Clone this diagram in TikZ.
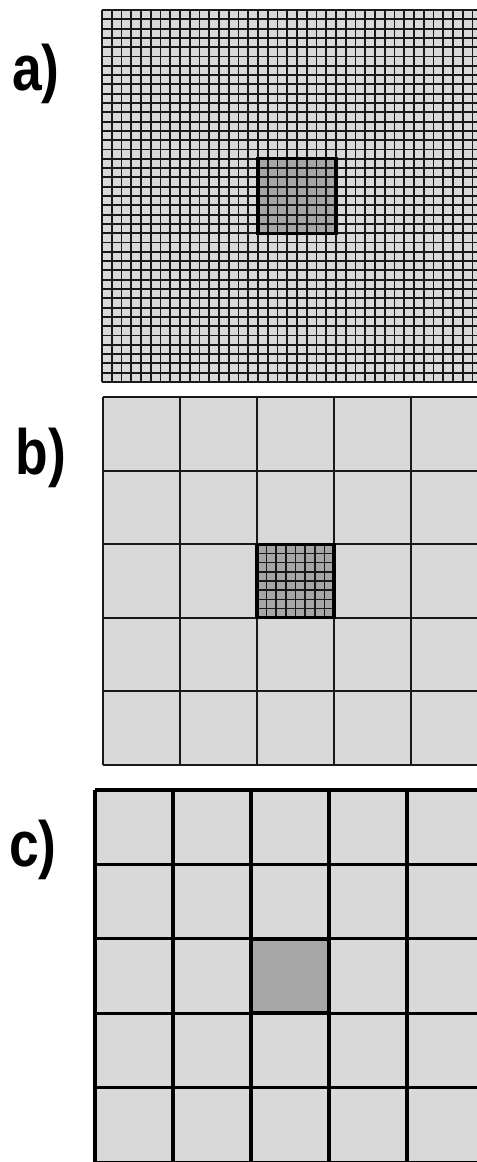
\documentclass[tikz,border=0pt]{standalone}
\usepackage{fontspec}
\setmainfont{Liberation Sans}
\usepackage{xcolor}
\definecolor{cellgray}{RGB}{217,217,217}
\definecolor{hotgray}{RGB}{166,166,166}
\definecolor{gridink}{RGB}{25,25,25}
\tikzset{
  finegrid/.style={draw=gridink,line width=2.8pt},
  coarsegrid/.style={draw=gridink,line width=2.6pt},
  boldgrid/.style={draw=black,line width=4.3pt},
  hotframe/.style={draw=black,line width=4.6pt},
  panellabel/.style={font=\fontsize{76}{76}\selectfont\bfseries,inner sep=0pt}
}
\newcommand{\tallcap}[1]{\scalebox{1}[1.2]{#1}}

\begin{document}
\begin{tikzpicture}[x=0.05cm,y=-0.05cm]
\useasboundingbox (0,0) rectangle (477,1162);
\clip (0,0) rectangle (477,1162);

% panel a: fine mesh
\fill[cellgray] (102,10) rectangle (492,382);
\fill[hotgray] (258,158.8) rectangle (336,233.2);
\foreach \i in {0,...,40}
  \draw[finegrid] ({102+9.75*\i},10) -- ({102+9.75*\i},382);
\foreach \j in {0,...,40}
  \draw[finegrid] (102,{10+9.3*\j}) -- (492,{10+9.3*\j});
\draw[hotframe] (258,158.8) rectangle (336,233.2);
\node[panellabel] (la) at (36,74) {\tallcap{a)}};

% panel b: coarse mesh, one refined cell
\fill[cellgray] (103,397) rectangle (488,765);
\fill[hotgray] (257,544.2) rectangle (334,617.8);
\foreach \i in {1,...,7}
  \draw[draw=gridink,line width=2.2pt] ({257+9.625*\i},544.2) -- ({257+9.625*\i},617.8);
\foreach \j in {1,...,7}
  \draw[draw=gridink,line width=2.2pt] (257,{544.2+9.2*\j}) -- (334,{544.2+9.2*\j});
\foreach \i in {0,...,5}
  \draw[coarsegrid] ({103+77*\i},397) -- ({103+77*\i},765);
\foreach \j in {0,...,5}
  \draw[coarsegrid] (103,{397+73.6*\j}) -- (488,{397+73.6*\j});
\draw[hotframe] (257,544.2) rectangle (334,617.8);
\node[panellabel] (lb) at (41,458) {\tallcap{b)}};

% panel c: coarse mesh only
\fill[cellgray] (95,790) rectangle (485,1162);
\fill[hotgray] (251,938.8) rectangle (329,1013.2);
\foreach \i in {0,...,5}
  \draw[boldgrid] ({95+78*\i},790) -- ({95+78*\i},1162);
\foreach \j in {0,...,5}
  \draw[boldgrid] (95,{790+74.4*\j}) -- (485,{790+74.4*\j});
\draw[hotframe,line width=6pt] (251,938.8) rectangle (329,1013.2);
\node[panellabel] (lc) at (33,850) {\tallcap{c)}};
\end{tikzpicture}
\end{document}
